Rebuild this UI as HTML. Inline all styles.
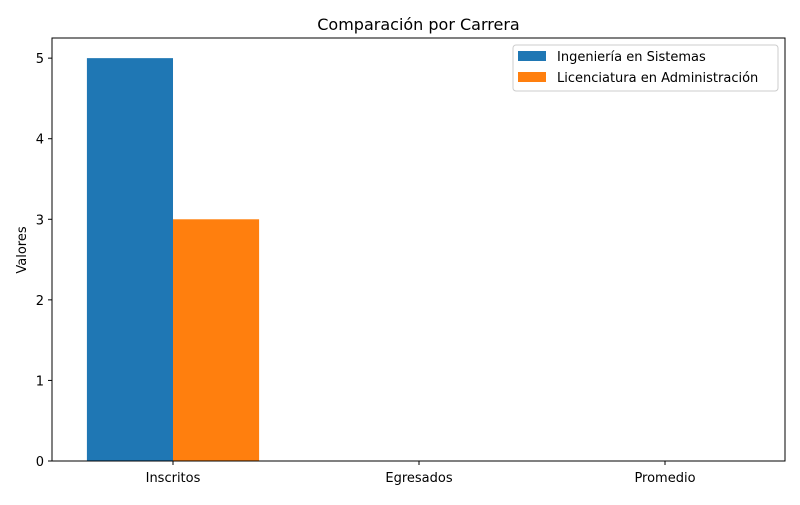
<!DOCTYPE html>
<html><head><meta charset="utf-8"><style>
body{margin:0;background:#fff;font-family:"Liberation Sans","DejaVu Sans",sans-serif;}
svg text{font-family:"DejaVu Sans","Liberation Sans",sans-serif;}
</style></head><body>
<svg id="chart" width="800" height="500" xmlns="http://www.w3.org/2000/svg">
<rect width="800" height="500" fill="#fff"/>
<text x="418.5" y="30" text-anchor="middle" font-size="16">Comparación por Carrera</text>
<g id="plot"></g>
<rect x="52" y="38" width="733" height="423" fill="none" stroke="#000" stroke-width="1"/>
<text transform="translate(26,250) rotate(-90)" text-anchor="middle" font-size="13">Valores</text>
<g>
<rect x="513" y="45" width="265" height="46" fill="#fff" stroke="#ccc" rx="3"/>
<rect x="518" y="51" width="28" height="10" fill="#1f77b4"/>
<text x="557" y="61" font-size="13">Ingeniería en Sistemas</text>
<rect x="518" y="72" width="28" height="10" fill="#ff7f0e"/>
<text x="557" y="82" font-size="13">Licenciatura en Administración</text>
</g>
</svg>
<script>
const categories=["Inscritos","Egresados","Promedio"];
const sistemas=[5,0,0];
const administracion=[3,0,0];
const yTicks=[0,1,2,3,4,5];
const L=52,R=785,T=38,B=461,W=0.35;
const xMin=-0.4919,xMax=2.4878,yMax=5.25;
const x=v=>L+(v-xMin)/(xMax-xMin)*(R-L);
const y=v=>B-v/yMax*(B-T);
const g=document.getElementById('plot');
const NS="http://www.w3.org/2000/svg";
function mk(t,a){const e=document.createElementNS(NS,t);for(const k in a)e.setAttribute(k,a[k]);g.appendChild(e);return e;}
categories.forEach((c,i)=>{
 const b1=mk('rect',{x:x(i-W),y:y(sistemas[i]),width:x(i)-x(i-W),height:y(0)-y(sistemas[i]),fill:'#1f77b4'});
 
 
 const b2=mk('rect',{x:x(i),y:y(administracion[i]),width:x(i+W)-x(i),height:y(0)-y(administracion[i]),fill:'#ff7f0e'});
 
 
 mk('line',{x1:x(i),x2:x(i),y1:B,y2:B+4,stroke:'#000'});
 const t=mk('text',{x:x(i),y:B+21,'text-anchor':'middle','font-size':13});
 t.textContent=c;
 
 
});
yTicks.forEach(v=>{
 mk('line',{x1:L-4,x2:L,y1:y(v),y2:y(v),stroke:'#000'});
 const t=mk('text',{x:L-8,y:y(v)+5,'text-anchor':'end','font-size':13});
 t.textContent=v;
 
 
});
</script>
</body></html>
